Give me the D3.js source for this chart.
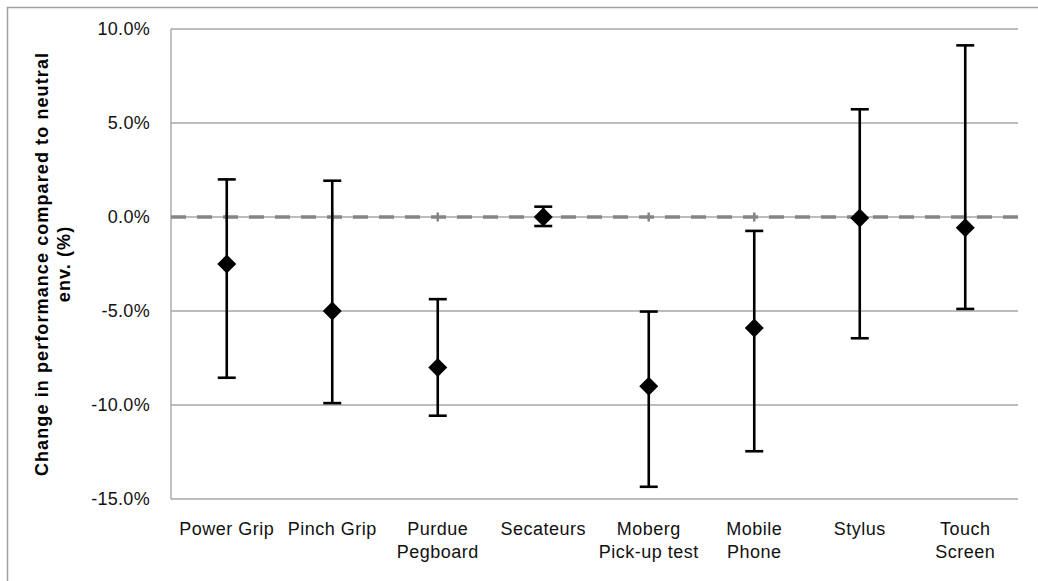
<!DOCTYPE html>
<html><head><meta charset="utf-8">
<script src="https://cdn.jsdelivr.net/npm/d3@7"></script>
<style>body{margin:0;background:#fff}svg{display:block}text{font-family:Arial,"Liberation Sans",sans-serif}</style>
</head><body><svg id="c" width="1038" height="581"></svg>
<script>
const categories = [["Power Grip"],["Pinch Grip"],["Purdue","Pegboard"],["Secateurs"],["Moberg","Pick-up test"],["Mobile","Phone"],["Stylus"],["Touch","Screen"]];
const means = [-2.5,-5.0,-8.0,0.0,-9.0,-5.9,-0.05,-0.57];
const upper = [2.0,1.93,-4.37,0.55,-5.03,-0.74,5.73,9.13];
const lower = [-8.55,-9.9,-10.57,-0.48,-14.35,-12.46,-6.45,-4.89];
const yTicks = [10,5,0,-5,-10,-15];

const svg = d3.select("#c");
const L = 171, R = 1018, T = 29, B = 499;
const names = categories.map(c=>c.join(" "));
const x = d3.scaleBand().domain(names).range([174,1018]);
const y = d3.scaleLinear().domain([-15,10]).range([B,T]);

// outer frame
svg.append("path").attr("d","M7.5,581V7.5H1038").attr("fill","none").attr("stroke","#a0a0a0").attr("stroke-width",1.5);

// gridlines
svg.append("g").selectAll("line").data(yTicks).join("line")
  .attr("x1",L).attr("x2",R).attr("y1",d=>y(d)).attr("y2",d=>y(d))
  .attr("stroke","#a6a6a6").attr("stroke-width",1.4);
svg.append("line").attr("x1",L).attr("x2",L).attr("y1",T).attr("y2",B).attr("stroke","#a6a6a6").attr("stroke-width",1.4);

// y tick labels
svg.append("g").selectAll("text").data(yTicks).join("text")
  .attr("x",150).attr("y",d=>y(d)).attr("dy","0.36em").attr("text-anchor","end")
  .attr("font-size",18).attr("letter-spacing",0.3).attr("fill","#111")
  .text(d=>d.toFixed(1)+"%");

// zero axis dashed + ticks
svg.append("line").attr("x1",L).attr("x2",R).attr("y1",y(0)).attr("y2",y(0))
  .attr("stroke","#858585").attr("stroke-width",3.5).attr("stroke-dasharray","15,11");
svg.append("g").selectAll("line").data(names).join("line")
  .attr("x1",d=>x(d)+x.bandwidth()/2).attr("x2",d=>x(d)+x.bandwidth()/2)
  .attr("y1",y(0)-4.5).attr("y2",y(0)+4.5).attr("stroke","#858585").attr("stroke-width",2.5);

// category labels
const cl = svg.append("g").selectAll("text").data(categories).join("text")
  .attr("x",(d,i)=>x(names[i])+x.bandwidth()/2).attr("y",535)
  .attr("text-anchor","middle").attr("font-size",18).attr("letter-spacing",0.5).attr("fill","#111");
cl.selectAll("tspan").data(d=>d).join("tspan")
  .attr("x",function(){return this.parentNode.getAttribute("x");})
  .attr("dy",(d,i)=>i?23:0).text(d=>d);

// error bars
const g = svg.append("g");
names.forEach((n,i)=>{
  const cx = x(n)+x.bandwidth()/2;
  g.append("line").attr("x1",cx).attr("x2",cx).attr("y1",y(upper[i])).attr("y2",y(lower[i])).attr("stroke","#000").attr("stroke-width",2.6);
  [upper[i],lower[i]].forEach(v=>g.append("line").attr("x1",cx-9).attr("x2",cx+9).attr("y1",y(v)).attr("y2",y(v)).attr("stroke","#000").attr("stroke-width",2.6));
  const cy = y(means[i]), s=9.5;
  g.append("path").attr("d",`M${cx},${cy-s}L${cx+s},${cy}L${cx},${cy+s}L${cx-s},${cy}Z`).attr("fill","#000");
});

// y title
svg.append("text").attr("transform","translate(43,264) rotate(-90)").attr("text-anchor","middle")
  .attr("font-size",18).attr("font-weight","bold").attr("letter-spacing",1.1).attr("fill","#000")
  .selectAll("tspan").data(["Change in performance compared to neutral","env. (%)"]).join("tspan")
  .attr("x",0).attr("dy",(d,i)=>i?22:0).attr("dominant-baseline","middle").text(d=>d);
</script></body></html>
